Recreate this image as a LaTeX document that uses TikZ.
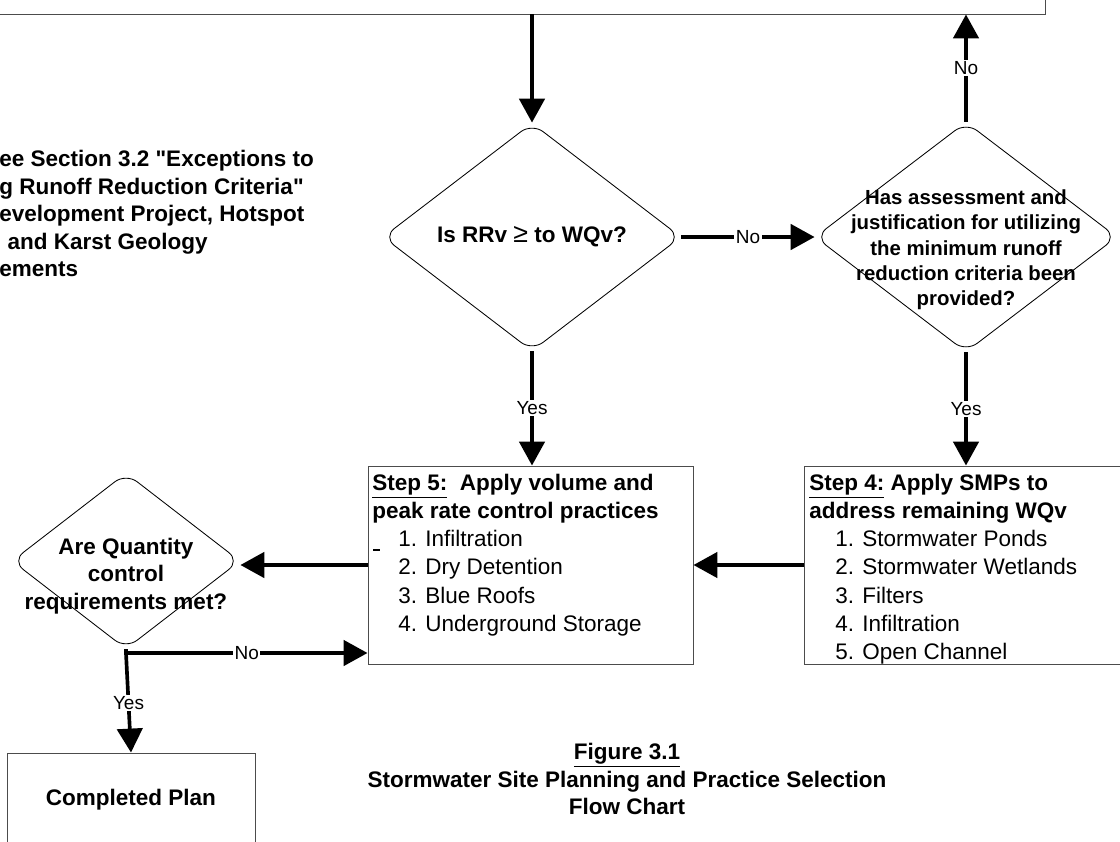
\documentclass[tikz,border=0pt]{standalone}
\usepackage{fontspec}
\setmainfont{Liberation Sans}[Ligatures=TeXOff]
\usetikzlibrary{shapes.geometric,arrows.meta}
\begin{document}
\begin{tikzpicture}[x=0.025cm,y=-0.025cm,
  flow/.style={line width=2.6pt,-{Triangle[length=17pt,width=18pt]}},
  lbl/.style={fill=white,inner sep=1pt,font=\fontsize{13.5}{15}\selectfont},
  stepbox/.style={draw=black!70,line width=0.7pt,inner sep=0pt},
  decision/.style={diamond,draw,line width=0.6pt,rounded corners=10pt,inner sep=0pt},
  boldtext/.style={font=\fontsize{16}{19.6}\selectfont\bfseries}]
\pgfmathsetlengthmacro{\pxu}{0.025cm}
\useasboundingbox (0,0) rectangle (1120,842);
\clip (0,0) rectangle (1120,842);
% boxes and decisions
\node[stepbox,minimum width=1055*\pxu,minimum height=54*\pxu] (top) at (517.5,-13) {};
\node[decision,minimum width=298*\pxu,minimum height=228*\pxu] (d1) at (532,237) {};
\node[decision,minimum width=302*\pxu,minimum height=230*\pxu] (d2) at (966,237) {};
\node[decision,minimum width=228*\pxu,minimum height=176*\pxu] (d3) at (126,561) {};
\node[stepbox,minimum width=325*\pxu,minimum height=198*\pxu] (s5) at (530.5,565) {};
\node[stepbox,minimum width=326*\pxu,minimum height=198*\pxu] (s4) at (967,565) {};
\node[stepbox,minimum width=248*\pxu,minimum height=94*\pxu] (plan) at (131,800) {};
% texts
\node[boldtext] (d1t) at (d1) {Is RRv {\mdseries\fontsize{19}{20}\selectfont ≥} to WQv?};
\node[font=\fontsize{14.5}{18}\selectfont\bfseries,align=center] (d2t) at (966,250)
  {Has assessment and\\justification for utilizing\\the minimum runoff\\reduction criteria been\\provided?};
\node[boldtext,align=center] (d3t) at (126,576) {Are Quantity\\control\\requirements met?};
\node[boldtext] (plant) at (plan) {Completed Plan};
\node[anchor=north west,align=left,inner sep=0pt,font=\fontsize{16}{20}\selectfont] (s5t) at (372,474)
  {\textbf{\underline{Step 5:}\ \ Apply volume and}\\
   \textbf{peak rate control practices}\\
   \hspace*{18.5pt}1. Infiltration\\
   \hspace*{18.5pt}2. Dry Detention\\
   \hspace*{18.5pt}3. Blue Roofs\\
   \hspace*{18.5pt}4. Underground Storage};
\node[anchor=north west,align=left,inner sep=0pt,font=\fontsize{16}{20}\selectfont] (s4t) at (809,474)
  {\textbf{\underline{Step 4:} Apply SMPs to}\\
   \textbf{address remaining WQv}\\
   \hspace*{18.5pt}1. Stormwater Ponds\\
   \hspace*{18.5pt}2. Stormwater Wetlands\\
   \hspace*{18.5pt}3. Filters\\
   \hspace*{18.5pt}4. Infiltration\\
   \hspace*{18.5pt}5. Open Channel};
\draw[line width=1.4pt] (373,550) -- (380,550);
\node[boldtext,anchor=north west,align=left,inner sep=0pt] (note) at (-1,150)
  {ee Section 3.2 "Exceptions to\\g Runoff Reduction Criteria"\\evelopment Project, Hotspot\\\hspace*{6pt}and Karst Geology\\ements};
\node[boldtext,align=center] (cap) at (627,779)
  {\underline{Figure 3.1}\\Stormwater Site Planning and Practice Selection\\Flow Chart};
% connectors
\draw[flow] (top.south -| d1.north) -- (d1.north);
\draw[flow] (d1.east) -- node[lbl] {No} (d2.west);
\draw[flow] (d2.north) -- node[lbl] {No} (d2.north |- top.south);
\draw[flow] (d1.south) -- node[lbl] {Yes} (d1.south |- s5.north);
\draw[flow] (d2.south) -- node[lbl] {Yes} (d2.south |- s4.north);
\draw[flow] (s4.west) -- (s5.east);
\draw[flow] (s5.west) -- (s5.west -| d3.east);
\coordinate (split) at (126,653);
\draw[flow] (d3.south) -- (split) -- node[lbl] {No} (split -| s5.west);
\draw[flow] (split) -- node[lbl] {Yes} (plan.north);
\end{tikzpicture}
\end{document}
